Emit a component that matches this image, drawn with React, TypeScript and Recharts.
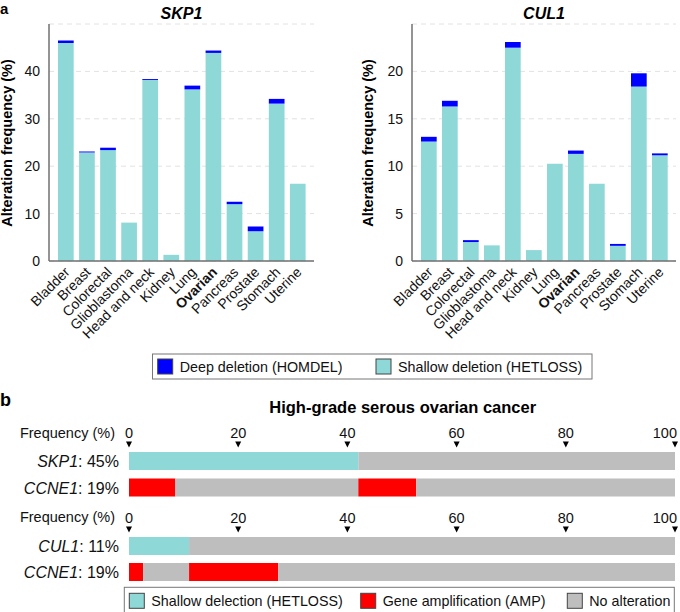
import React from 'react';
import { BarChart, Bar, XAxis, YAxis, CartesianGrid, Cell, Text } from 'recharts';

const cancerTypes = ['Bladder', 'Breast', 'Colorectal', 'Glioblastoma', 'Head and neck', 'Kidney', 'Lung', 'Ovarian', 'Pancreas', 'Prostate', 'Stomach', 'Uterine'];
const skp1Shallow = [46.0, 22.9, 23.4, 8.1, 38.2, 1.3, 36.2, 43.9, 12.0, 6.3, 33.2, 16.3];
const skp1Deep = [0.5, 0.2, 0.5, 0, 0.2, 0, 0.8, 0.5, 0.5, 1.0, 1.0, 0];
const cul1Shallow = [12.6, 16.3, 2.0, 1.65, 22.5, 1.15, 10.25, 11.3, 8.15, 1.6, 18.4, 11.15];
const cul1Deep = [0.5, 0.6, 0.2, 0, 0.6, 0, 0, 0.35, 0, 0.2, 1.4, 0.2];
const skp1Ticks = [0, 10, 20, 30, 40];
const cul1Ticks = [0, 5, 10, 15, 20];

const freqTicks = [0, 20, 40, 60, 80, 100];
const skp1Track = [{ status: 'HETLOSS', pct: 42.0 }, { status: 'NONE', pct: 58.0 }];
const ccne1TrackA = [{ status: 'AMP', pct: 8.5 }, { status: 'NONE', pct: 33.5 }, { status: 'AMP', pct: 10.6 }, { status: 'NONE', pct: 47.4 }];
const cul1Track = [{ status: 'HETLOSS', pct: 11.0 }, { status: 'NONE', pct: 89.0 }];
const ccne1TrackB = [{ status: 'AMP', pct: 2.6 }, { status: 'NONE', pct: 8.4 }, { status: 'AMP', pct: 16.3 }, { status: 'NONE', pct: 72.7 }];

const CYAN = '#8ed8d8';
const BLUE = '#0000ff';
const RED = '#ff0000';
const GRAY = '#bebebe';
const FRAME = '#707070';
const FONT = '"Liberation Sans", Arial, Helvetica, sans-serif';

const statusColor: Record<string, string> = { HETLOSS: CYAN, AMP: RED, NONE: GRAY };

const legendA = [
  { label: 'Deep deletion (HOMDEL)', color: BLUE },
  { label: 'Shallow deletion (HETLOSS)', color: CYAN },
];
const legendB = [
  { label: 'Shallow delection (HETLOSS)', color: CYAN },
  { label: 'Gene amplification (AMP)', color: RED },
  { label: 'No alteration', color: GRAY },
];

const buildPanelA = (shallow: number[], deep: number[]) =>
  cancerTypes.map((name, i) => ({ name, shallow: shallow[i], deep: deep[i] }));

const buildRow = (gene: string, pct: string, track: { status: string; pct: number }[]) => {
  const r: any = { gene, pct };
  track.forEach((seg, i) => {
    r['s' + i] = seg.pct;
    r['c' + i] = statusColor[seg.status];
  });
  return r;
};

const group1 = [buildRow('SKP1', '45%', skp1Track), buildRow('CCNE1', '19%', ccne1TrackA)];
const group2 = [buildRow('CUL1', '11%', cul1Track), buildRow('CCNE1', '19%', ccne1TrackB)];

const CatTick = (props: any) => {
  const { x, y, payload } = props;
  const bold = payload.value === 'Ovarian';
  return (
    <Text x={x + 5} y={y + 12} angle={-45} textAnchor="end" verticalAnchor="end" fontSize={14}
      fontWeight={bold ? 'bold' : 'normal'} fill="#111" fontFamily={FONT}>
      {payload.value}
    </Text>
  );
};

const AlterationChart = ({ data, domainMax, ticks, yWidth, width }: any) => (
  <BarChart width={width} height={345} data={data} margin={{ top: 24, right: 4, bottom: 0, left: 0 }} barSize={15.7}>
    <CartesianGrid vertical={false} strokeDasharray="5 4" stroke="#e2e2e2" />
    <XAxis dataKey="name" height={84} interval={0} padding={{ left: 6, right: 6 }} tickLine={false}
      tickSize={0} tickMargin={0} axisLine={{ stroke: FRAME, strokeWidth: 1.5 }} tick={CatTick} />
    <XAxis xAxisId="top" dataKey="name" orientation="top" height={0} tick={false} tickLine={false}
      axisLine={{ stroke: FRAME, strokeWidth: 1.5 }} />
    <YAxis domain={[0, domainMax]} ticks={ticks} width={yWidth} tickLine={false} tickSize={0} tickMargin={9}
      axisLine={{ stroke: FRAME, strokeWidth: 1.5 }} tick={{ fontSize: 14, fill: '#111', fontFamily: FONT }} />
    <YAxis yAxisId="right" orientation="right" domain={[0, domainMax]} width={0} tick={false} tickLine={false}
      axisLine={{ stroke: FRAME, strokeWidth: 1.5 }} />
    <Bar dataKey="shallow" stackId="a" fill={CYAN} isAnimationActive={false} />
    <Bar dataKey="deep" stackId="a" fill={BLUE} isAnimationActive={false} />
  </BarChart>
);

const FreqTick = (props: any) => {
  const { x, y, payload } = props;
  const last = payload.value === 100;
  return (
    <g>
      <text x={last ? x + 2 : x} y={y - 15} textAnchor={last ? 'end' : 'middle'} dominantBaseline="central"
        fontSize={14.5} fill="#111" fontFamily={FONT}>{payload.value}</text>
      <path d={`M${x - 3},${y - 6.5} L${x + 3},${y - 6.5} L${x},${y - 0.5} Z`} fill="#000" />
    </g>
  );
};

const makeRowTick = (rows: any[]) => (props: any) => {
  const { x, y, index } = props;
  const row = rows[index];
  return (
    <text x={x} y={y} textAnchor="end" dominantBaseline="central" fontSize={16} fill="#111" fontFamily={FONT}>
      <tspan fontStyle="italic">{row.gene}</tspan>
      <tspan>: {row.pct}</tspan>
    </text>
  );
};

const OncoChart = ({ rows, height }: any) => (
  <BarChart width={680} height={height} data={rows} layout="vertical" barSize={18}
    margin={{ top: 0, right: 5, bottom: 0, left: 0 }}>
    <XAxis type="number" domain={[0, 100]} ticks={freqTicks} orientation="top" height={28} interval={0}
      axisLine={false} tickLine={false} tickSize={0} tickMargin={0} tick={FreqTick} />
    <YAxis type="category" dataKey="gene" width={129} axisLine={false} tickLine={false} tickSize={0}
      tickMargin={10} tick={makeRowTick(rows)} interval={0} />
    {[0, 1, 2, 3].map((i) => (
      <Bar key={i} dataKey={'s' + i} stackId="t" isAnimationActive={false}>
        {rows.map((r: any, j: number) => (
          <Cell key={j} fill={r['c' + i] || GRAY} />
        ))}
      </Bar>
    ))}
  </BarChart>
);

export default function App() {
  const skp1Data = buildPanelA(skp1Shallow, skp1Deep);
  const cul1Data = buildPanelA(cul1Shallow, cul1Deep);
  return (
    <div style={{ position: 'absolute', left: 0, top: 0, width: 680, height: 612, background: '#fff', fontFamily: FONT, overflow: 'hidden' }}>
      <div style={{ position: 'absolute', left: 0, top: 0 }}>
        <AlterationChart data={skp1Data} domainMax={50} ticks={skp1Ticks} yWidth={49} width={318} />
      </div>
      <div style={{ position: 'absolute', left: 340, top: 0 }}>
        <AlterationChart data={cul1Data} domainMax={25} ticks={cul1Ticks} yWidth={72} width={340} />
      </div>
      <div style={{ position: 'absolute', left: 0, top: 420 }}>
        <OncoChart rows={group1} height={81} />
      </div>
      <div style={{ position: 'absolute', left: 0, top: 505 }}>
        <OncoChart rows={group2} height={80} />
      </div>
      <svg width={680} height={612} style={{ position: 'absolute', left: 0, top: 0, pointerEvents: 'none' }} fontFamily={FONT}>
        <text x={0} y={14} fontSize={15} fontWeight="bold" fill="#000">a</text>
        <text x={0} y={406} fontSize={18} fontWeight="bold" fill="#000">b</text>
        <text x={181.5} y={13} textAnchor="middle" dominantBaseline="central" fontSize={16} fontWeight="bold" fontStyle="italic" fill="#000">SKP1</text>
        <text x={544} y={13} textAnchor="middle" dominantBaseline="central" fontSize={16} fontWeight="bold" fontStyle="italic" fill="#000">CUL1</text>
        <text x={7} y={143} transform="rotate(-90 7 143)" textAnchor="middle" dominantBaseline="central" fontSize={14.5} fontWeight="bold" fill="#000">Alteration frequency (%)</text>
        <text x={368} y={143} transform="rotate(-90 368 143)" textAnchor="middle" dominantBaseline="central" fontSize={14.5} fontWeight="bold" fill="#000">Alteration frequency (%)</text>
        <rect x={152.5} y={354} width={439.5} height={25} fill="none" stroke="#777" strokeWidth={1} />
        {legendA.map((it, i) => {
          const sx = [157.7, 376][i];
          return (
            <g key={i}>
              <rect x={sx} y={359} width={15} height={15} fill={it.color} stroke="#444" strokeWidth={1} />
              <text x={sx + 22} y={367} dominantBaseline="central" fontSize={14.3} fill="#111">{it.label}</text>
            </g>
          );
        })}
        <text x={402.7} y={407} textAnchor="middle" dominantBaseline="central" fontSize={16.5} fontWeight="bold" fill="#000">High-grade serous ovarian cancer</text>
        <text x={115} y={433.3} textAnchor="end" dominantBaseline="central" fontSize={14.5} fill="#111">Frequency (%)</text>
        <text x={115} y={517.3} textAnchor="end" dominantBaseline="central" fontSize={14.5} fill="#111">Frequency (%)</text>
        <rect x={124.3} y={587.3} width={550} height={40} fill="none" stroke="#777" strokeWidth={1} />
        {legendB.map((it, i) => {
          const sx = [129.3, 360.7, 567.3][i];
          return (
            <g key={i}>
              <rect x={sx} y={593.3} width={15} height={15} fill={it.color} stroke="#444" strokeWidth={1} />
              <text x={sx + 22} y={600.7} dominantBaseline="central" fontSize={14.3} fill="#111">{it.label}</text>
            </g>
          );
        })}
      </svg>
    </div>
  );
}
